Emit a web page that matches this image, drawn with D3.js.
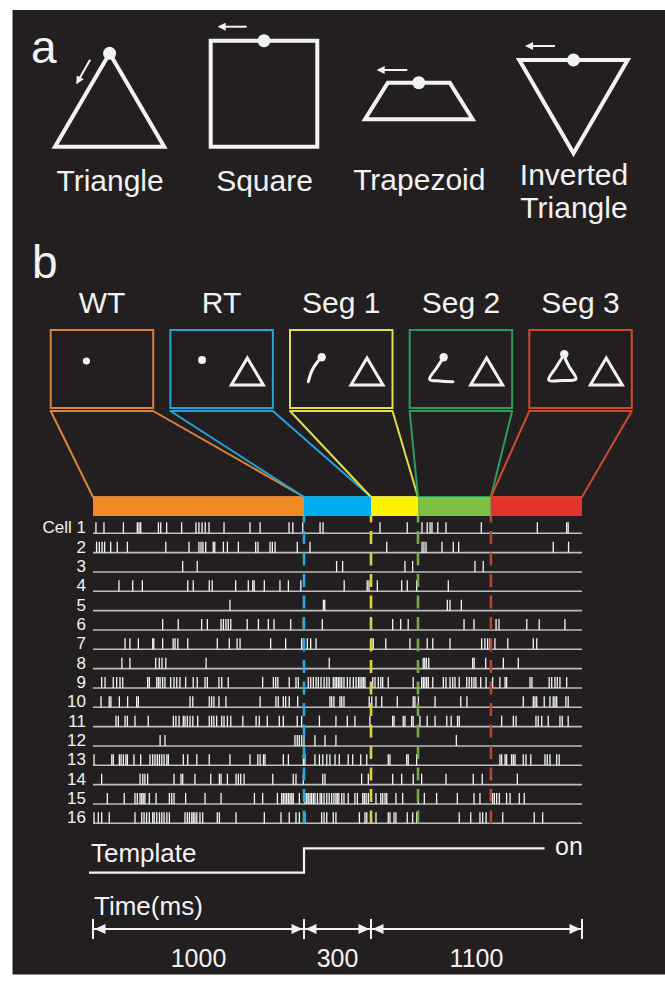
<!DOCTYPE html>
<html>
<head>
<meta charset="utf-8">
<script src="https://cdn.jsdelivr.net/npm/d3@7"></script>
<style>
  html, body { margin: 0; padding: 0; background: #ffffff; }
  svg { display: block; }
  text { font-family: "Liberation Sans", Arial, Helvetica, sans-serif; fill: #f2f2f2; }
</style>
</head>
<body>
<svg id="fig" width="665" height="983"></svg>
<script>
// ---------------- data ----------------
const shapeNames = [["Triangle"], ["Square"], ["Trapezoid"], ["Inverted", "Triangle"]];
const epochNames = ["WT", "RT", "Seg 1", "Seg 2", "Seg 3"];
const epochBounds = [0, 1000, 1300, 1545, 1925, 2400];          // ms
const durationTicks = [0, 1000, 1300, 2400];                     // ms
const durationLabels = ["1000", "300", "1100"];
const templateOnset = 1000;                                      // ms
const templateEnd = 2205;                                        // ms
const cellLabels = ["Cell 1", "2", "3", "4", "5", "6", "7", "8", "9", "10", "11", "12", "13", "14", "15", "16"];

// spike times (ms) for each recorded cell
const cell1 = [14, 52, 144, 210, 218, 226, 310, 321, 349, 420, 488, 502, 517, 532, 550, 621, 744, 792, 929, 947, 994, 1072, 1085, 1347, 1489, 1566, 1593, 1608, 1618, 1648, 1691, 1875, 2167, 2320, 2328];
const cell2 = [17, 30, 43, 55, 84, 115, 163, 345, 455, 502, 512, 521, 534, 570, 577, 618, 637, 689, 771, 782, 839, 850, 863, 968, 1027, 1382, 1566, 1576, 1587, 1670, 1729, 1757, 2250, 2330];
const cell3 = [425, 494, 1146, 1173, 1477, 1517, 1842, 1885];
const cell4 = [123, 188, 234, 449, 475, 551, 565, 676, 736, 757, 764, 812, 886, 926, 985, 1180, 1283, 1291, 1333, 1460, 1489, 1538, 1703];
const cell5 = [649, 1087, 1093, 1698, 1712, 1771];
const cell6 = [330, 404, 515, 542, 607, 618, 630, 641, 653, 731, 784, 831, 858, 937, 997, 1082, 1413, 1455, 1494, 1785, 1837, 1952, 1967, 2112, 2177, 2311];
const cell7 = [152, 175, 215, 283, 288, 330, 380, 389, 402, 449, 589, 646, 683, 697, 842, 913, 989, 997, 1015, 1030, 1054, 1304, 1312, 1377, 1503, 1593, 1622, 1712, 1877, 1894, 1908, 1920, 1946, 2013, 2146, 2164];
const cell8 = [137, 175, 297, 314, 327, 345, 536, 1113, 1572, 1580, 1589, 1601, 1830, 1838, 1898, 1990, 2068];
const cell9 = [41, 57, 96, 112, 128, 141, 259, 267, 302, 310, 318, 330, 341, 368, 384, 397, 412, 439, 475, 494, 531, 542, 597, 610, 641, 804, 855, 866, 876, 930, 962, 973, 1019, 1030, 1042, 1054, 1064, 1076, 1090, 1102, 1113, 1131, 1139, 1146, 1154, 1161, 1169, 1179, 1194, 1206, 1221, 1233, 1244, 1251, 1259, 1266, 1273, 1309, 1321, 1338, 1351, 1361, 1390, 1520, 1564, 1573, 1581, 1590, 1599, 1622, 1677, 1691, 1712, 1726, 1738, 1760, 1799, 1812, 1825, 1837, 1847, 1872, 1900, 1934, 1972, 1999, 2007, 2129, 2139, 2229, 2242, 2259, 2271, 2285, 2320];
const cell10 = [38, 77, 85, 125, 164, 207, 215, 460, 473, 551, 562, 573, 597, 630, 792, 867, 878, 902, 913, 930, 970, 1116, 1124, 1134, 1161, 1169, 1179, 1292, 1304, 1326, 1356, 1437, 1520, 1529, 1547, 1634, 1768, 1800, 2094, 2146, 2155, 2164, 2203, 2233, 2250, 2259, 2268, 2316, 2328];
const cell11 = [109, 120, 152, 163, 199, 262, 381, 393, 408, 428, 436, 447, 460, 473, 496, 551, 562, 573, 586, 610, 621, 637, 653, 710, 773, 788, 826, 883, 902, 968, 989, 1069, 1143, 1194, 1228, 1295, 1413, 1420, 1468, 1477, 1512, 1520, 1555, 1593, 1634, 1695, 1718, 1751, 1760, 1981, 2042, 2056, 2160, 2172, 2190, 2224, 2285, 2297, 2328];
const cell12 = [318, 341, 957, 968, 978, 989, 1000, 1049, 1094, 1143, 1745];
const cell13 = [5, 89, 96, 125, 133, 144, 156, 163, 194, 226, 270, 283, 294, 305, 315, 326, 337, 350, 357, 428, 449, 492, 551, 649, 744, 781, 792, 808, 815, 902, 926, 997, 1004, 1049, 1069, 1084, 1102, 1116, 1139, 1158, 1198, 1218, 1254, 1281, 1390, 1399, 1486, 1494, 1538, 1972, 1981, 1999, 2007, 2033, 2042, 2051, 2094, 2108, 2133, 2207, 2219, 2233, 2268, 2281];
const cell14 = [41, 223, 236, 246, 259, 384, 417, 425, 483, 558, 599, 607, 637, 678, 689, 700, 716, 852, 949, 962, 997, 1084, 1094, 1258, 1288, 1413, 1460, 1520, 1564, 1691, 1833, 1880, 2063];
const cell15 = [68, 148, 199, 210, 223, 231, 238, 246, 267, 299, 362, 373, 384, 439, 531, 607, 765, 804, 874, 894, 902, 910, 918, 926, 934, 942, 949, 978, 1004, 1012, 1019, 1027, 1034, 1042, 1049, 1060, 1072, 1079, 1090, 1102, 1113, 1124, 1134, 1143, 1149, 1156, 1169, 1179, 1198, 1228, 1239, 1263, 1270, 1278, 1288, 1326, 1351, 1361, 1373, 1382, 1430, 1465, 1547, 1578, 1642, 1750, 1837, 1868, 1934, 1943, 1955, 1969, 2007, 2025, 2073, 2099];
const cell16 = [5, 25, 41, 77, 199, 231, 242, 254, 267, 283, 290, 302, 315, 326, 337, 350, 362, 436, 447, 457, 468, 475, 483, 492, 507, 520, 589, 599, 678, 812, 891, 930, 962, 978, 1004, 1079, 1090, 1102, 1131, 1143, 1248, 1273, 1281, 1326, 1390, 1399, 1420, 1430, 1489, 1517, 1538, 1760, 1820, 1868, 1882, 1900, 1987, 2151, 2195];
const cells = [cell1, cell2, cell3, cell4, cell5, cell6, cell7, cell8, cell9, cell10, cell11, cell12, cell13, cell14, cell15, cell16];

// ---------------- styles ----------------
const BG = "#231f20";
const INK = "#f2f2f2";
const boxColors = ["#d9843a", "#24a3d6", "#e3dc4c", "#2a9d5c", "#cf4a2d"];
const barColors = ["#f08a24", "#00aeef", "#fff200", "#7cc143", "#e4342e"];
const dashColors = ["#27a9e1", "#ddd23c", "#71ac45", "#b5462f"];

const svg = d3.select("#fig");
svg.append("rect").attr("x", 12.5).attr("y", 10).attr("width", 665 - 12.5).attr("height", 964.5).attr("fill", BG);

const defs = svg.append("defs");
defs.append("marker").attr("id", "head")
  .attr("viewBox", "0 0 10 10").attr("refX", 8).attr("refY", 5)
  .attr("markerWidth", 4).attr("markerHeight", 4).attr("orient", "auto")
  .append("path").attr("d", "M0,0L10,5L0,10Z").attr("fill", INK);

// ---------------- panel a: the four template shapes ----------------
svg.append("text").attr("x", 31).attr("y", 63).attr("font-size", 46).text("a");

const shapeSpecs = [
  { cx: 109.6, hw: 54.6, top: 53.3, bot: 146.7, pts: [[0, 0], [1, 1], [-1, 1]], arrow: [[-19.5, 6.5], [-32.5, 29.5]], lab: [191] },
  { cx: 264.0, hw: 53.3, top: 40.7, bot: 146.7, pts: [[-1, 0], [1, 0], [1, 1], [-1, 1]], arrow: [[-17.3, -14], [-44.7, -14]], lab: [191] },
  { cx: 418.8, hw: 53.8, top: 82.7, bot: 119.3, pts: [[-0.576, 0], [0.576, 0], [1, 1], [-1, 1]], arrow: [[-11.5, -12.7], [-40.5, -12.7]], lab: [190] },
  { cx: 573.5, hw: 54.2, top: 60.0, bot: 153.3, pts: [[-1, 0], [1, 0], [0, 1]], arrow: [[-18.5, -14], [-46.8, -14]], lab: [185, 218] }
];

const gA = svg.append("g");
shapeSpecs.forEach((s, i) => {
  const sx = d3.scaleLinear().domain([-1, 1]).range([s.cx - s.hw, s.cx + s.hw]);
  const sy = d3.scaleLinear().domain([0, 1]).range([s.top, s.bot]);
  gA.append("path")
    .attr("d", d3.line().x(p => sx(p[0])).y(p => sy(p[1]))(s.pts) + "Z")
    .attr("fill", "none").attr("stroke", INK).attr("stroke-width", 4)
    .attr("stroke-linejoin", "miter");
  gA.append("circle").attr("cx", sx(0)).attr("cy", sy(0)).attr("r", 6.5).attr("fill", INK);
  gA.append("line")
    .attr("x1", s.cx + s.arrow[0][0]).attr("y1", s.top + s.arrow[0][1])
    .attr("x2", s.cx + s.arrow[1][0]).attr("y2", s.top + s.arrow[1][1])
    .attr("stroke", INK).attr("stroke-width", 2).attr("marker-end", "url(#head)");
  shapeNames[i].forEach((line, k) => {
    gA.append("text").attr("x", s.cx + 0.5).attr("y", s.lab[k])
      .attr("text-anchor", "middle").attr("font-size", 30).text(line);
  });
});

// ---------------- panel b ----------------
svg.append("text").attr("x", 32).attr("y", 278).attr("font-size", 46).text("b");

// time scale: each epoch gets its own stretch of the axis
const x = d3.scaleLinear().domain(durationTicks).range([93, 304, 371, 582]);
const rowY = d3.scaleLinear().domain([1, 16]).range([533.3, 823.3]);

const boxTop = 330, boxH = 78, boxW = 102.5, boxStep = 119.65, boxLeft0 = 50.7;
const barTop = 497, barBot = 516;
const boxX = i => boxLeft0 + i * boxStep;

// schematic contents of each epoch box (box-relative coordinates)
const traces = [
  null,
  null,
  [[31.7, 27.3], [27, 32.5], [22, 40.5], [18.3, 51.7]],
  [[34, 27.3], [27, 38], [20, 49.3], [30, 51], [43.3, 51.7]],
  [[35, 24.3], [27, 37], [19.3, 50], [33, 50.5], [46.7, 49], [40, 37], [36, 29]]
];
const dots = [[35.7, 31, 3.6], [31.7, 30, 4], [31.7, 27.3, 4.2], [34, 27.3, 4.2], [35, 24.3, 4.2]];
const targetTri = [[77, 28], [93, 55], [61, 55]];

const gB = svg.append("g");
epochNames.forEach((name, i) => {
  const bx = boxX(i);
  const c = boxColors[i];
  // connector from the box down to its stretch of the time bar
  gB.append("path")
    .attr("d", d3.line()([[bx, 411], [bx + boxW, 411], [x(epochBounds[i + 1]), barTop], [x(epochBounds[i]), barTop]]) + "Z")
    .attr("fill", "none").attr("stroke", c).attr("stroke-width", 2).attr("stroke-linejoin", "round");
  gB.append("rect").attr("x", bx).attr("y", boxTop).attr("width", boxW).attr("height", boxH)
    .attr("fill", BG).attr("stroke", c).attr("stroke-width", 2);
  gB.append("text").attr("x", bx + boxW / 2).attr("y", 312.7)
    .attr("text-anchor", "middle").attr("font-size", 30).text(name);

  const tr = traces[i];
  if (tr) {
    gB.append("path").attr("d", d3.line().curve(d3.curveCatmullRom)(tr.map(p => [bx + p[0], boxTop + p[1]])))
      .attr("fill", "none").attr("stroke", INK).attr("stroke-width", 3).attr("stroke-linecap", "round")
      .attr("stroke-linejoin", "round");
  }
  const d = dots[i];
  gB.append("circle").attr("cx", bx + d[0]).attr("cy", boxTop + d[1]).attr("r", d[2]).attr("fill", INK);
  if (i > 0) {
    gB.append("path").attr("d", d3.line()(targetTri.map(p => [bx + p[0], boxTop + p[1]])) + "Z")
      .attr("fill", "none").attr("stroke", INK).attr("stroke-width", 3).attr("stroke-linejoin", "miter");
  }
});

// colored epoch bar
gB.selectAll("rect.bar").data(epochNames).join("rect").attr("class", "bar")
  .attr("x", (d, i) => x(epochBounds[i])).attr("y", barTop)
  .attr("width", (d, i) => x(epochBounds[i + 1]) - x(epochBounds[i]))
  .attr("height", barBot - barTop).attr("fill", (d, i) => barColors[i]);

// ---------------- raster ----------------
const gR = svg.append("g");
cells.forEach((spikes, i) => {
  const y0 = rowY(i + 1);
  gR.append("line").attr("x1", x(0)).attr("x2", x(2400)).attr("y1", y0).attr("y2", y0)
    .attr("stroke", "#bdbdbd").attr("stroke-width", 1.6);
  gR.selectAll(null).data(spikes).join("line")
    .attr("x1", t => x(t)).attr("x2", t => x(t))
    .attr("y1", y0 - 11).attr("y2", y0)
    .attr("stroke", "#f4f4f4").attr("stroke-width", 1.3);
  gR.append("text").attr("x", 86).attr("y", y0).attr("text-anchor", "end")
    .attr("font-size", 17).text(cellLabels[i]);
});

// epoch boundaries
gR.selectAll("line.bound").data(epochBounds.slice(1, 5)).join("line").attr("class", "bound")
  .attr("x1", t => x(t)).attr("x2", t => x(t))
  .attr("y1", barBot).attr("y2", 826)
  .attr("stroke", (t, i) => dashColors[i]).attr("stroke-width", 2.6)
  .attr("stroke-dasharray", "13,8.5").attr("stroke-dashoffset", 6.5);

// ---------------- template indicator ----------------
const yLow = 872.7, yHigh = 848.3;
svg.append("path")
  .attr("d", d3.line()([[89, yLow], [x(templateOnset), yLow], [x(templateOnset), yHigh], [x(templateEnd), yHigh]]))
  .attr("fill", "none").attr("stroke", INK).attr("stroke-width", 2.2);
svg.append("text").attr("x", 91).attr("y", 861.7).attr("font-size", 26).text("Template");
svg.append("text").attr("x", 555).attr("y", 855).attr("font-size", 25).text("on");

// ---------------- time axis ----------------
svg.append("text").attr("x", 94).attr("y", 915).attr("font-size", 26).text("Time(ms)");
const gT = svg.append("g");
const yAx = 929;
gT.append("line").attr("x1", x(0)).attr("x2", x(2400)).attr("y1", yAx).attr("y2", yAx)
  .attr("stroke", INK).attr("stroke-width", 2);
gT.selectAll("line.tick").data(durationTicks).join("line").attr("class", "tick")
  .attr("x1", t => x(t)).attr("x2", t => x(t)).attr("y1", yAx - 10).attr("y2", yAx + 10)
  .attr("stroke", INK).attr("stroke-width", 2);
const segs = d3.pairs(durationTicks);
segs.forEach(([a, b], i) => {
  const xa = x(a) + 1.5, xb = x(b) - 1.5;
  gT.append("path").attr("d", `M${xa},${yAx}L${xa + 11},${yAx - 5}L${xa + 11},${yAx + 5}Z`).attr("fill", INK);
  gT.append("path").attr("d", `M${xb},${yAx}L${xb - 11},${yAx - 5}L${xb - 11},${yAx + 5}Z`).attr("fill", INK);
  gT.append("text").attr("x", (x(a) + x(b)) / 2).attr("y", 966.7)
    .attr("text-anchor", "middle").attr("font-size", 25).text(durationLabels[i]);
});
</script>
</body>
</html>
